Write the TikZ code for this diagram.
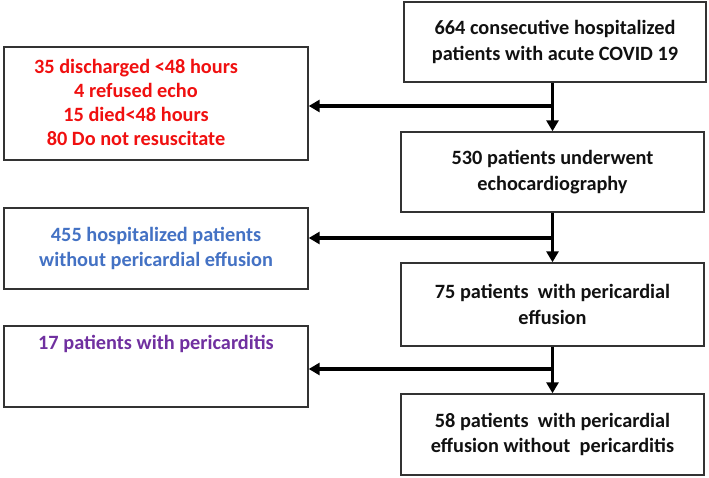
\documentclass[tikz,border=0pt]{standalone}
\usepackage{fontspec}
\setmainfont{Carlito}
\usetikzlibrary{arrows.meta}
\definecolor{boxline}{HTML}{333333}
\definecolor{redtxt}{HTML}{F01010}
\definecolor{bluetxt}{HTML}{4472C4}
\definecolor{purpletxt}{HTML}{7030A0}
\definecolor{blacktxt}{HTML}{111111}
\tikzset{
  flowbox/.style={draw=boxline, line width=1.4pt, fill=white, inner sep=0pt,
    align=center, font=\bfseries\fontsize{20.3}{25.3}\selectfont, text=blacktxt},
  flowarrow/.style={line width=3.6pt, draw=black, -{Triangle[length=11pt,width=12pt]}},
  flowline/.style={line width=3.6pt, draw=black}
}
\begin{document}
\begin{tikzpicture}[x=1pt,y=1pt]
\useasboundingbox (0,0) rectangle (709,478);
\fill[white] (0,0) rectangle (709,478);
% main column
\node[flowbox, minimum width=302, minimum height=80] (b1) at (555,436)
  {664 consecutive hospitalized\\patients with acute COVID 19};
\node[flowbox, minimum width=303, minimum height=80] (b2) at (552.5,306)
  {530 patients underwent\\echocardiography};
\node[flowbox, minimum width=303, minimum height=83] (b3) at (552.5,173.5)
  {75 patients\ \ with pericardial\\effusion};
\node[flowbox, minimum width=303, minimum height=81] (b4) at (552.5,43.5)
  {58 patients\ \ with pericardial\\effusion without\ \ pericarditis};
% side boxes
\node[flowbox, minimum width=304, minimum height=113] (r) at (156,374.5) {};
\node[font=\bfseries\fontsize{20.3}{23.7}\selectfont, text=redtxt, align=center] (rt) at (136,375.5)
  {35 discharged <48 hours\\4 refused echo\\15 died<48 hours\\80 Do not resuscitate};
\node[flowbox, minimum width=304, minimum height=81, text=bluetxt] (bl) at (156,229.5)
  {455 hospitalized patients\\without pericardial effusion};
\node[flowbox, minimum width=304, minimum height=81] (p) at (156,111.5) {};
\node[font=\bfseries\fontsize{20.3}{25}\selectfont, text=purpletxt] (pt) at ([yshift=-19pt]p.north)
  {17 patients with pericarditis};
% connectors
\coordinate (j1) at (b2.north |- 0,372);
\coordinate (j2) at (b2.north |- 0,240);
\coordinate (j3) at (b2.north |- 0,109);
\draw[flowline] (b2.north |- b1.south) -- (j1);
\draw[flowarrow] (j1) -- (b2.north);
\draw[flowarrow] (j1) -- (r.east |- j1);
\draw[flowline] (b2.south) -- (j2);
\draw[flowarrow] (j2) -- (b3.north);
\draw[flowarrow] (j2) -- (bl.east |- j2);
\draw[flowline] (b3.south) -- (j3);
\draw[flowarrow] (j3) -- (b4.north);
\draw[flowarrow] (j3) -- (p.east |- j3);
\end{tikzpicture}
\end{document}
